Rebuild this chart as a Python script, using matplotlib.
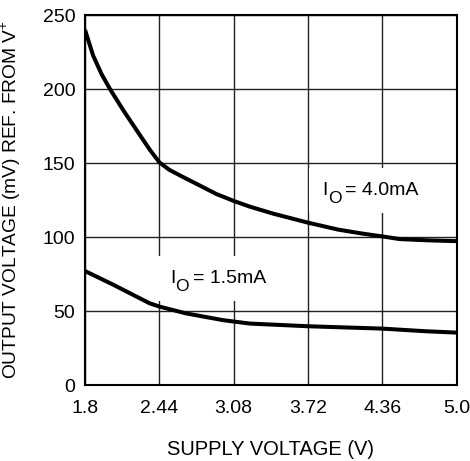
import matplotlib
matplotlib.use("Agg")
import matplotlib.pyplot as plt

plt.rcParams["font.family"] = ["Liberation Sans", "DejaVu Sans"]

# Kurven (Versorgungsspannung V, Ausgangsspannung mV)
vs_40 = [1.8, 1.87, 1.943, 2.015, 2.13, 2.258, 2.358, 2.44, 2.526, 2.64, 2.786,
         2.93, 3.08, 3.22, 3.42, 3.72, 3.98, 4.19, 4.36, 4.51, 4.77, 5.0]
vo_40 = [240, 222.6, 210, 200, 185.6, 170.6, 159, 150.5, 145.4, 140.7, 134.9,
         129.1, 124.4, 120.5, 115.8, 109.7, 105, 102.3, 100.4, 98.6, 97.7, 97.2]

vs_15 = [1.8, 2.04, 2.354, 2.44, 2.67, 2.99, 3.22, 3.72, 4.36, 4.74, 5.0]
vo_15 = [77, 67.9, 55.3, 53, 48.4, 43.8, 41.5, 39.7, 38.1, 36.3, 35.4]

xticks = [1.8, 2.44, 3.08, 3.72, 4.36, 5.0]
xtick_labels = ["1.8", "2.44", "3.08", "3.72", "4.36", "5.0"]
yticks = [0, 50, 100, 150, 200, 250]


def io_label(ax, x, y, current):
    # "I" + grosses tiefgestelltes "O" + Rest, weisser Hintergrund unterbricht das Gitter
    kw = dict(xy=(x, y), xycoords="data", textcoords="offset points",
              fontsize=14, ha="left", va="baseline")
    box = dict(facecolor="white", edgecolor="none", pad=10)
    ax.annotate("= " + current, xytext=(16.5, 0), zorder=2, bbox=box, **kw)
    ax.annotate("I", xytext=(0, 0), zorder=4, bbox=box, **kw)
    ax.annotate("O", xytext=(3.95, -6), zorder=5, **dict(kw, fontsize=12.5))


fig = plt.figure(figsize=(4.70, 4.61), dpi=100)
ax = fig.add_axes([85 / 470, 1 - 385 / 461, 371.5 / 470, 370 / 461])

ax.plot(vs_40, vo_40, color="black", lw=2.9, solid_capstyle="butt", zorder=3)
ax.plot(vs_15, vo_15, color="black", lw=2.9, solid_capstyle="butt", zorder=3)

ax.set_xlim(1.8, 5.0)
ax.set_ylim(0, 250)
ax.set_xticks(xticks)
ax.set_xticklabels(xtick_labels)
ax.set_yticks(yticks)
ax.tick_params(length=0, labelsize=14)
ax.tick_params(axis="x", pad=11)
ax.tick_params(axis="y", pad=7)
ax.grid(True, color="#222222", lw=1.0)
ax.set_axisbelow(True)
for s in ax.spines.values():
    s.set_linewidth(1.5)

io_label(ax, 3.846, 128.5, "4.0mA")
io_label(ax, 2.531, 69, "1.5mA")

ax.set_xlabel("SUPPLY VOLTAGE (V)", fontsize=14.5, labelpad=16)
ax.set_ylabel("OUTPUT VOLTAGE (mV) REF. FROM V$^\\mathregular{+}$", fontsize=13.8, labelpad=14)

fig.savefig("out.png", dpi=100)
